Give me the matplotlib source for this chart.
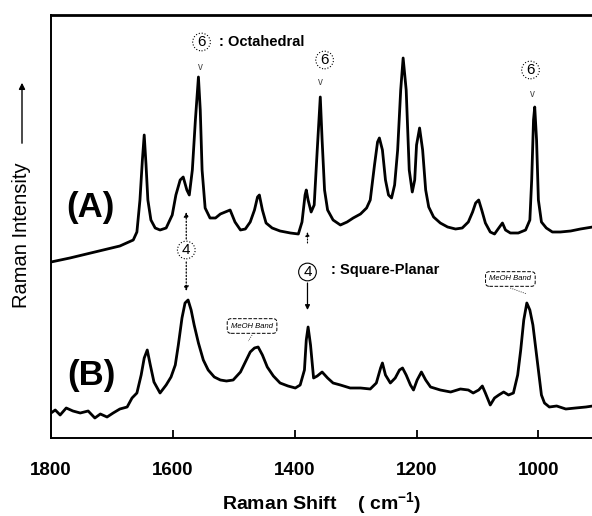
import matplotlib
matplotlib.use("Agg")
import matplotlib.pyplot as plt

# ── Data ──────────────────────────────────────────────────────────────────────

# Spectrum (A): wavenumber (cm-1) and intensity (arb. units)
A_SHIFT = [1800, 1769, 1728, 1687, 1665, 1659, 1654, 1650, 1647, 1644, 1641, 1636,
           1629, 1621, 1611, 1601, 1595, 1588, 1583, 1577, 1573, 1568, 1563, 1558,
           1555, 1552, 1547, 1539, 1530, 1522, 1514, 1506, 1498, 1489, 1481, 1473,
           1466, 1461, 1458, 1453, 1447, 1437, 1424, 1407, 1394, 1388, 1383, 1381,
           1378, 1373, 1368, 1363, 1358, 1355, 1351, 1346, 1337, 1325, 1314, 1304,
           1292, 1282, 1276, 1269, 1264, 1261, 1256, 1251, 1246, 1241, 1236, 1231,
           1226, 1222, 1217, 1212, 1207, 1203, 1200, 1195, 1190, 1185, 1180, 1172,
           1161, 1149, 1136, 1125, 1115, 1108, 1103, 1098, 1093, 1087, 1079, 1072,
           1065, 1059, 1054, 1046, 1033, 1021, 1014, 1011, 1008, 1006, 1003, 1000,
           995, 987, 977, 964, 947, 931, 911]
A_INT = [176, 180, 186, 192, 198, 206, 238, 278, 303, 273, 238, 218,
         210, 208, 210, 223, 243, 258, 261, 248, 243, 268, 318, 361,
         328, 268, 230, 220, 220, 224, 226, 228, 216, 208, 209, 216,
         228, 241, 243, 228, 215, 210, 207, 205, 204, 216, 243, 248,
         238, 226, 233, 288, 341, 298, 248, 228, 218, 213, 216, 220,
         224, 230, 238, 273, 296, 300, 288, 258, 243, 240, 253, 288,
         348, 380, 348, 268, 246, 258, 293, 310, 288, 248, 231, 221,
         215, 211, 209, 210, 216, 226, 235, 238, 228, 215, 206, 204,
         210, 215, 208, 205, 205, 208, 218, 258, 318, 331, 298, 238,
         216, 210, 206, 206, 207, 209, 211]

# Spectrum (B)
B_SHIFT = [1800, 1793, 1785, 1775, 1764, 1752, 1739, 1728, 1719, 1708, 1698, 1687,
           1675, 1667, 1659, 1652, 1647, 1642, 1637, 1631, 1621, 1611, 1603, 1596,
           1591, 1585, 1580, 1575, 1570, 1565, 1558, 1550, 1542, 1532, 1522, 1512,
           1501, 1489, 1481, 1473, 1466, 1460, 1453, 1445, 1435, 1424, 1411, 1399,
           1391, 1384, 1381, 1378, 1374, 1369, 1363, 1355, 1346, 1337, 1325, 1309,
           1292, 1276, 1266, 1259, 1256, 1251, 1243, 1235, 1228, 1223, 1217, 1210,
           1205, 1199, 1192, 1185, 1177, 1161, 1144, 1128, 1115, 1107, 1098, 1092,
           1087, 1079, 1072, 1065, 1057, 1049, 1041, 1034, 1029, 1024, 1019, 1014,
           1009, 1005, 1000, 995, 990, 982, 970, 955, 939, 922, 911]
B_INT = [25, 28, 23, 30, 27, 25, 27, 20, 24, 21, 25, 29,
         31, 40, 45, 63, 80, 88, 73, 56, 45, 53, 61, 73,
         93, 120, 135, 138, 128, 113, 95, 78, 68, 61, 58, 57,
         58, 66, 76, 86, 90, 91, 83, 71, 62, 55, 52, 50,
         53, 68, 98, 111, 93, 60, 62, 66, 60, 55, 53, 50,
         50, 49, 55, 70, 75, 63, 55, 60, 68, 70, 63, 53,
         48, 58, 66, 58, 51, 48, 46, 49, 48, 45, 48, 52,
         45, 33, 40, 43, 46, 43, 45, 63, 88, 118, 135, 128,
         113, 93, 68, 43, 35, 31, 32, 29, 30, 31, 32]

X_TICKS = [1800, 1600, 1400, 1200, 1000]

FONT = "Liberation Sans"
INK = "black"

# ── Figure ────────────────────────────────────────────────────────────────────

plt.rcParams["font.family"] = [FONT, "DejaVu Sans"]
plt.rcParams["mathtext.default"] = "regular"

fig = plt.figure(figsize=(5.92, 5.16), dpi=100)
ax = fig.add_axes([51 / 592, 78 / 516, 1 - 51 / 592, 423 / 516])

ax.plot(A_SHIFT, A_INT, color=INK, lw=2.0)
ax.plot(B_SHIFT, B_INT, color=INK, lw=2.0)

ax.set_xlim(1800, 912)
ax.set_ylim(0, 423)
ax.set_yticks([])
ax.set_xticks(X_TICKS)
ax.tick_params(axis="x", direction="in", length=6, width=1.3, pad=17,
               labelsize=13.5)
for lab in ax.get_xticklabels():
    lab.set_fontweight("bold")
ax.spines["right"].set_visible(False)
ax.spines["top"].set_linewidth(2.0)
ax.spines["left"].set_linewidth(1.4)
ax.spines["bottom"].set_linewidth(1.4)

ax.set_xlabel("Raman Shift    ( cm$^{-1}$)", fontsize=14, fontweight="bold",
              labelpad=8)

# y label with arrow
fig.text(22 / 592, 1 - 235 / 516, "Raman Intensity", rotation=90,
         ha="center", va="center", fontsize=14.5)
fig.add_artist(matplotlib.patches.FancyArrowPatch(
    (22 / 592, 1 - 146 / 516), (22 / 592, 1 - 80 / 516),
    transform=fig.transFigure, arrowstyle="-|>", mutation_scale=9,
    lw=1.0, color=INK))

# (A) / (B)
ax.text(1736, 231, "(A)", fontsize=25, fontweight="bold", ha="center", va="center")
ax.text(1733, 63, "(B)", fontsize=25, fontweight="bold", ha="center", va="center")


def circled(x, y, s, ls=":"):
    ax.text(x, y, s, ha="center", va="center", fontsize=11,
            bbox=dict(boxstyle="circle,pad=0.12", fc="white", ec=INK,
                      ls=ls, lw=0.8))


# octahedral markers
circled(1553, 396, "6")
ax.text(1525, 396, ": Octahedral", ha="left", va="center", fontsize=10.5,
        fontweight="bold")
circled(1351, 378, "6")
circled(1013, 368, "6")
for x, y in [(1555, 371), (1358, 356), (1010, 344)]:
    ax.text(x, y, "v", ha="center", va="center", fontsize=7, color="#444444")

# square-planar markers
circled(1578, 188, "4")
ax.annotate("", xy=(1578, 226), xytext=(1578, 199),
            arrowprops=dict(arrowstyle="-|>", ls=":", lw=0.9, color=INK,
                            mutation_scale=7, shrinkA=0, shrinkB=0))
ax.annotate("", xy=(1578, 147), xytext=(1578, 176),
            arrowprops=dict(arrowstyle="-|>", ls=":", lw=0.9, color=INK,
                            mutation_scale=7, shrinkA=0, shrinkB=0))
circled(1379, 166, "4", ls="-")
ax.text(1340, 168, ": Square-Planar", ha="left", va="center", fontsize=10.5,
        fontweight="bold")
ax.annotate("", xy=(1379, 128), xytext=(1379, 155),
            arrowprops=dict(arrowstyle="-|>", lw=0.9, color=INK,
                            mutation_scale=7, shrinkA=0, shrinkB=0))
ax.annotate("", xy=(1379, 206), xytext=(1379, 195),
            arrowprops=dict(arrowstyle="-|>", ls=":", lw=0.8, color=INK,
                            mutation_scale=6, shrinkA=0, shrinkB=0))

# MeOH band call-outs
for (x, y), (tx, ty) in [((1470, 112), (1476, 97)), ((1046, 159), (1019, 144))]:
    ax.text(x, y, "MeOH Band", ha="center", va="center", fontsize=5.5,
            style="italic",
            bbox=dict(boxstyle="round,pad=0.5", fc="white", ec=INK, ls="--",
                      lw=0.7))
    ax.plot([x, tx], [y - 9, ty], color=INK, lw=0.6, ls=":")

fig.savefig("out.png", dpi=100)
